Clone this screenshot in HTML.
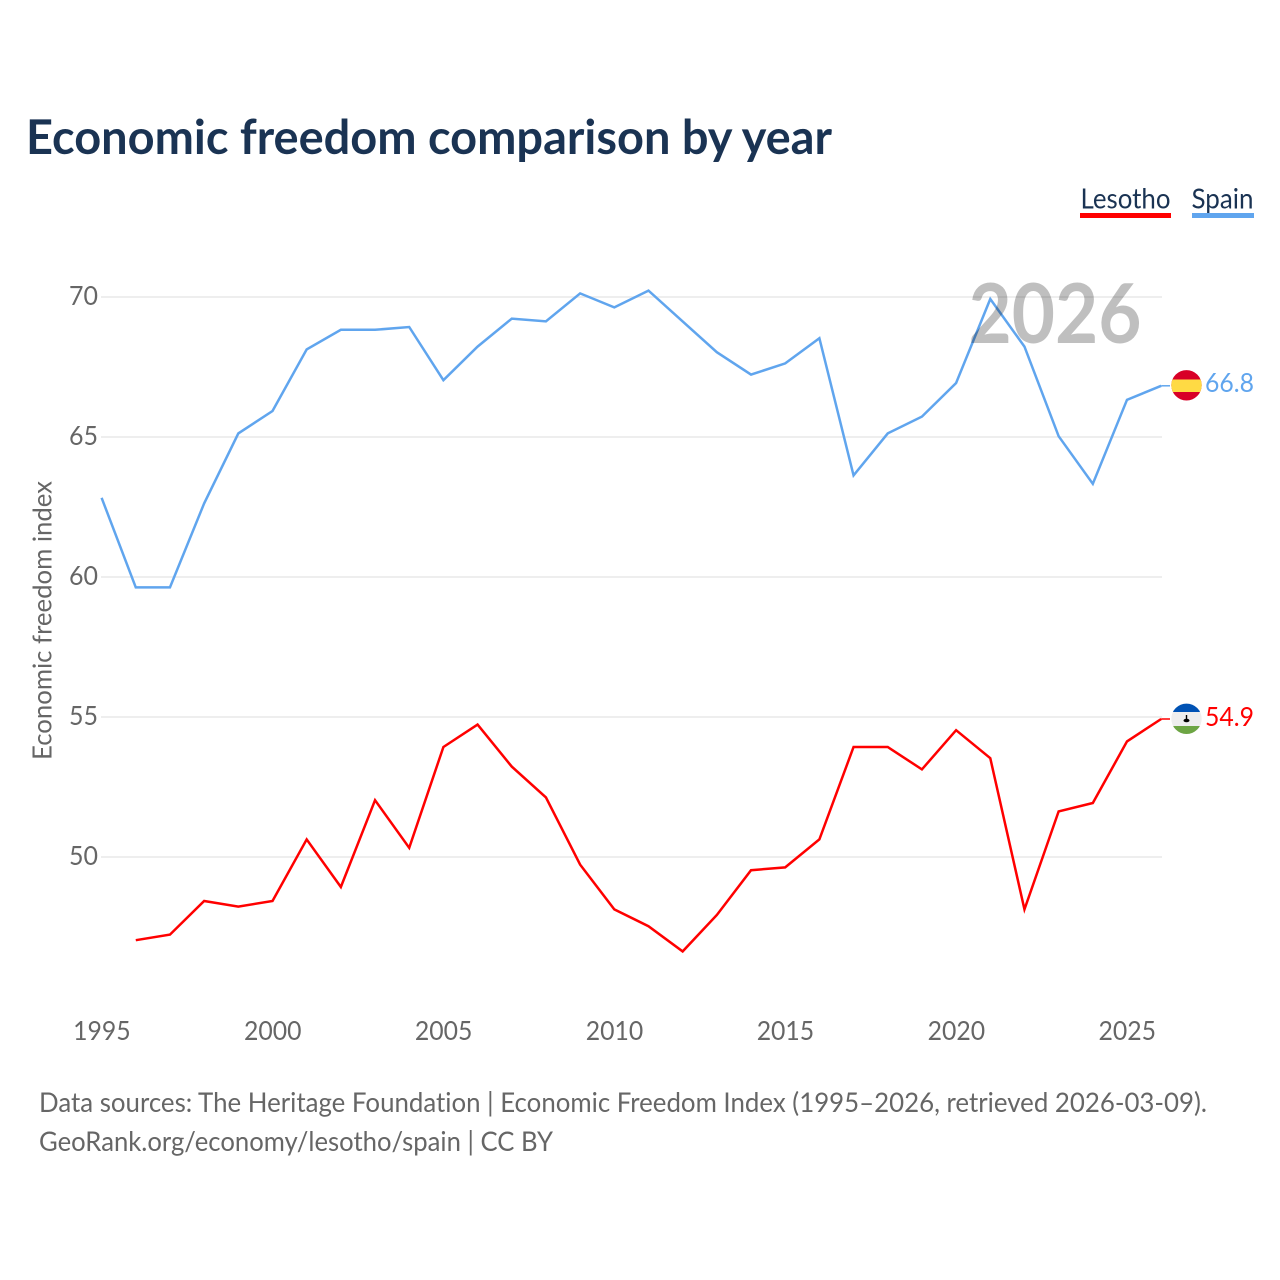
<!DOCTYPE html>
<html lang="en">
<head>
<meta charset="utf-8">
<title>Economic freedom comparison by year</title>
<style>
html,body{margin:0;padding:0;background:#fff;}
svg{display:block;}
text{font-family:"Lato","Carlito","Liberation Sans",sans-serif;font-variant-ligatures:none;}
</style>
</head>
<body>
<svg id="chart" xmlns="http://www.w3.org/2000/svg" width="1280" height="1280" viewBox="0 0 1280 1280">
  <rect x="0" y="0" width="1280" height="1280" fill="#ffffff"/>
  <text x="26" y="154" font-size="48" font-weight="700" fill="#1a3353" textLength="806" lengthAdjust="spacingAndGlyphs">Economic freedom comparison by year</text>

  <g>
    <text x="1080.5" y="208.5" font-size="28.5" fill="#1a3353" textLength="90" lengthAdjust="spacingAndGlyphs">Lesotho</text>
    <rect x="1080" y="213" width="91" height="5" fill="#ff0000"/>
  </g>
  <g>
    <text x="1191.5" y="208.5" font-size="28.5" fill="#1a3353" textLength="62" lengthAdjust="spacingAndGlyphs">Spain</text>
    <rect x="1192" y="213" width="62" height="5" fill="#60a5ee"/>
  </g>

  <g id="grid"></g>
  <g id="yticks"></g>
  <g id="xticks"></g>
  <text transform="translate(51.5,760) rotate(-90)" x="0" y="0" font-size="26.5" fill="#666666" textLength="279" lengthAdjust="spacingAndGlyphs">Economic freedom index</text>
  <g id="series"></g>
  <text x="968.5" y="343" font-size="82" font-weight="700" fill="#000000" fill-opacity="0.25" textLength="173" lengthAdjust="spacingAndGlyphs">2026</text>

  <g id="flag-spain">
    <clipPath id="clip-es"><circle cx="1186.5" cy="385.3" r="15.2"/></clipPath>
    <g clip-path="url(#clip-es)">
      <rect x="1170" y="369" width="33" height="33" fill="#d80027"/>
      <rect x="1170" y="379.5" width="33" height="12.5" fill="#ffda44"/>
    </g>
  </g>
  <g id="flag-lesotho">
    <clipPath id="clip-ls"><circle cx="1186.5" cy="718.8" r="15.2"/></clipPath>
    <g clip-path="url(#clip-ls)">
      <rect x="1170" y="703" width="33" height="32" fill="#eeeeee"/>
      <rect x="1170" y="703" width="33" height="9" fill="#0052b4"/>
      <rect x="1170" y="726" width="33" height="9" fill="#6da544"/>
      <rect x="1185.8" y="715" width="1.4" height="5" fill="#000000"/>
      <ellipse cx="1186.5" cy="720.5" rx="3" ry="1.8" fill="#000000"/>
    </g>
  </g>

  <text x="1205" y="392" font-size="26.5" fill="#60a5ee" textLength="49" lengthAdjust="spacingAndGlyphs">66.8</text>
  <text x="1205" y="726" font-size="26.5" fill="#ff0000" textLength="49" lengthAdjust="spacingAndGlyphs">54.9</text>

  <text x="39" y="1112" font-size="27.5" fill="#666666" textLength="1168" lengthAdjust="spacingAndGlyphs">Data sources: The Heritage Foundation | Economic Freedom Index (1995–2026, retrieved 2026-03-09).</text>
  <text x="39" y="1151" font-size="27.5" fill="#666666" textLength="514" lengthAdjust="spacingAndGlyphs">GeoRank.org/economy/lesotho/spain | CC BY</text>
</svg>
<script>
const years = [1995,1996,1997,1998,1999,2000,2001,2002,2003,2004,2005,2006,2007,2008,2009,2010,2011,2012,2013,2014,2015,2016,2017,2018,2019,2020,2021,2022,2023,2024,2025,2026];
const spainValues = [62.8,59.6,59.6,62.6,65.1,65.9,68.1,68.8,68.8,68.9,67.0,68.2,69.2,69.1,70.1,69.6,70.2,69.1,68.0,67.2,67.6,68.5,63.6,65.1,65.7,66.9,69.9,68.2,65.0,63.3,66.3,66.8];
const lesothoValues = [null,47.0,47.2,48.4,48.2,48.4,50.6,48.9,52.0,50.3,53.9,54.7,53.2,52.1,49.7,48.1,47.5,46.6,47.9,49.5,49.6,50.6,53.9,53.9,53.1,54.5,53.5,48.1,51.6,51.9,54.1,54.9];
const yTickValues = [50,55,60,65,70];
const xTickValues = [1995,2000,2005,2010,2015,2020,2025];

const SVG_NS = 'http://www.w3.org/2000/svg';
function xScale(year) { return 101.6 + (year - 1995) * (1025.4 / 30); }
function yScale(value) { return 857 - (value - 50) * 28; }
function lineY(value) { return yScale(value) - 0.8; }

function makeEl(tag, parent, props, text) {
  const el = document.createElementNS(SVG_NS, tag);
  Object.keys(props).forEach(function (k) { el.setAttribute(k, props[k]); });
  if (text !== undefined) el.textContent = text;
  parent.appendChild(el);
  return el;
}

const grid = document.getElementById('grid');
const yticks = document.getElementById('yticks');
const xticks = document.getElementById('xticks');
const seriesGroup = document.getElementById('series');

yTickValues.forEach(function (v) {
  const line = makeEl('line', grid, {x1: 101, x2: 1162, y1: yScale(v), y2: yScale(v), stroke: '#eeeeee', 'stroke-width': 2});
  
  
  const label = makeEl('text', yticks, {x: 98, y: yScale(v) + 8, 'font-size': 26.5, fill: '#666666', 'text-anchor': 'end', textLength: 29, lengthAdjust: 'spacingAndGlyphs'}, String(v));
  
  
});

xTickValues.forEach(function (yr) {
  const label = makeEl('text', xticks, {x: xScale(yr) - 28.5, y: 1040, 'font-size': 26.5, fill: '#666666', textLength: 57.5, lengthAdjust: 'spacingAndGlyphs'}, String(yr));
  
  
});

function linePath(values) {
  let d = '';
  values.forEach(function (v, i) {
    if (v === null) return;
    d += (d ? 'L' : 'M') + xScale(years[i]).toFixed(2) + ' ' + lineY(v).toFixed(2);
  });
  return d;
}

const spainLine = makeEl('path', seriesGroup, {d: linePath(spainValues), fill: 'none', stroke: '#60a5ee', 'stroke-width': 2.5, 'stroke-linejoin': 'miter'});



const lesothoLine = makeEl('path', seriesGroup, {d: linePath(lesothoValues), fill: 'none', stroke: '#ff0000', 'stroke-width': 2.5, 'stroke-linejoin': 'miter'});



const lastIndex = years.length - 1;
const spainLeader = makeEl('line', seriesGroup, {x1: xScale(years[lastIndex]), x2: 1170, y1: lineY(spainValues[lastIndex]), y2: lineY(spainValues[lastIndex]), stroke: '#60a5ee', 'stroke-width': 1.5});


const lesothoLeader = makeEl('line', seriesGroup, {x1: xScale(years[lastIndex]), x2: 1170, y1: lineY(lesothoValues[lastIndex]), y2: lineY(lesothoValues[lastIndex]), stroke: '#ff0000', 'stroke-width': 1.5});


</script>
</body>
</html>
